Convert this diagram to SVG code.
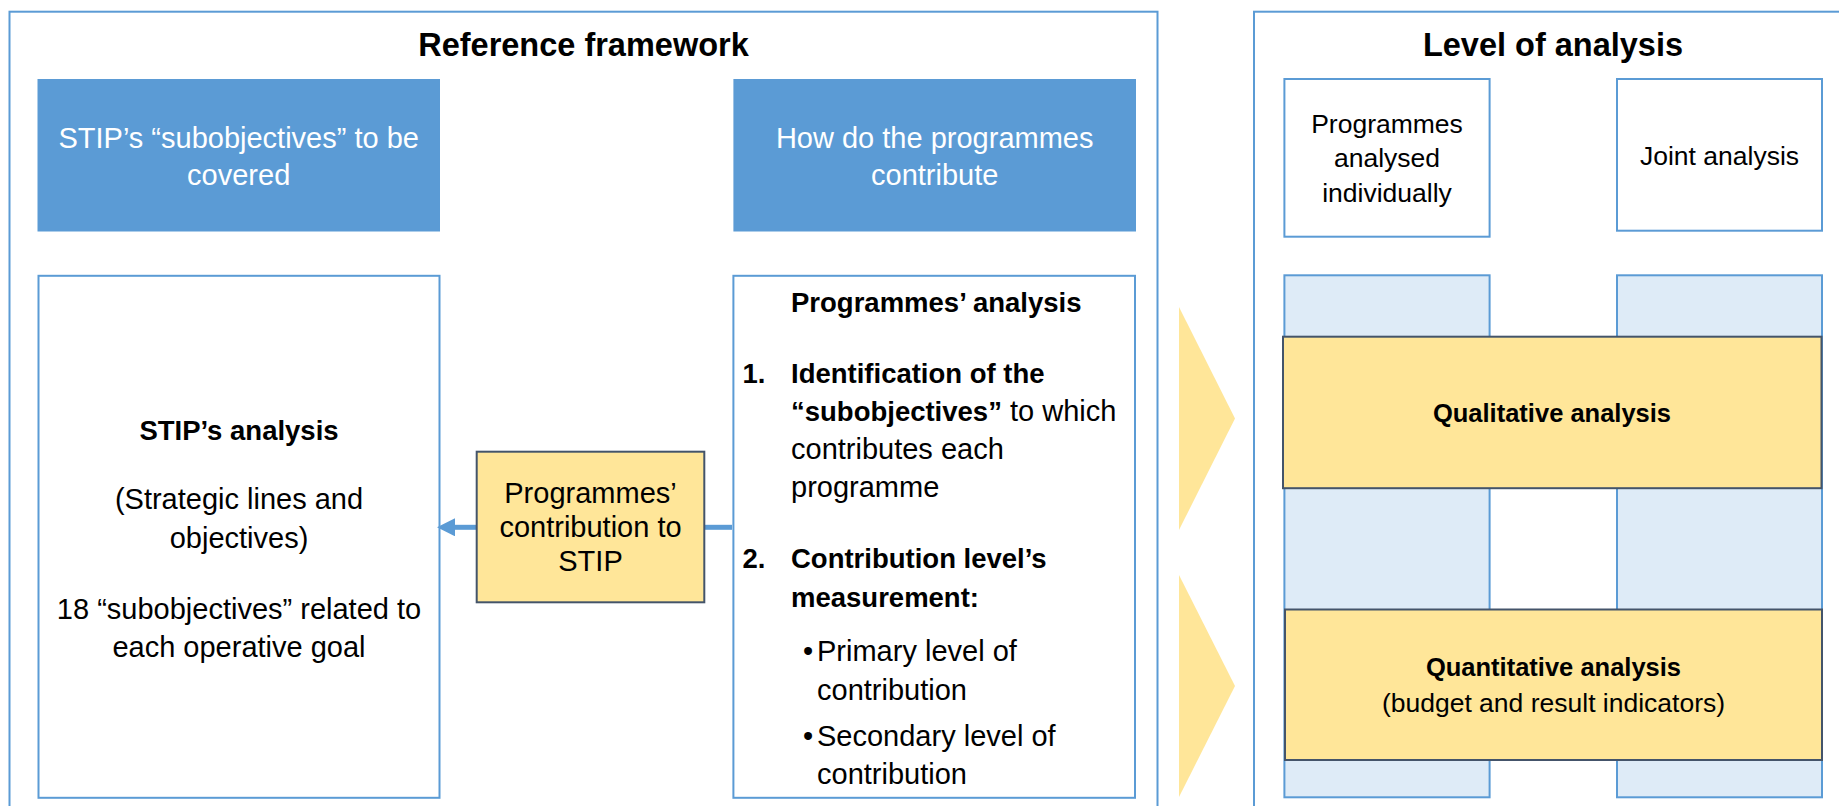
<svg xmlns="http://www.w3.org/2000/svg" width="1839" height="806" viewBox="0 0 1839 806">
<defs>
<style>
text{font-family:"Liberation Sans",Arial,sans-serif;fill:#000}
.frame{fill:#fff;stroke:#5B9BD5;stroke-width:2}
.hdr{fill:#5B9BD5;stroke:none}
.box{fill:#fff;stroke:#5B9BD5;stroke-width:2}
.col{fill:#DEEBF7;stroke:#5B9BD5;stroke-width:2}
.yel{fill:#FFE699;stroke:#44546A;stroke-width:2}
.chev{fill:#FFE699;stroke:none}
.title{font-size:32.5px;font-weight:bold;text-anchor:middle}
.wt{font-size:29px;fill:#fff;text-anchor:middle}
.lr{font-size:29px}
.lb{font-size:27.5px;font-weight:bold}
.rr{font-size:26.5px}
.rb{font-size:25.5px;font-weight:bold}
.c{text-anchor:middle}
.conn{stroke:#5B9BD5;stroke-width:5;fill:none}
</style>
<marker id="ah" markerUnits="userSpaceOnUse" markerWidth="18" markerHeight="18" refX="0" refY="9" orient="auto" viewBox="0 0 18 18">
<path d="M0,0 L18,9 L0,18 Z" fill="#5B9BD5"/>
</marker>
</defs>

<g id="frame-reference">
<rect class="frame" x="9.5" y="11.7" width="1148" height="820"/>
<text class="title" x="583.5" y="56">Reference framework</text>
</g>
<g id="frame-level">
<rect class="frame" x="1254" y="11.7" width="620" height="820"/>
<text class="title" x="1553" y="56">Level of analysis</text>
</g>

<g id="chevron-1"><polygon class="chev" points="1179,307 1235,418.5 1179,530"/></g>
<g id="chevron-2"><polygon class="chev" points="1179,575 1235,686 1179,797"/></g>

<g id="hdr-subobjectives">
<rect class="hdr" x="37.5" y="79" width="402.5" height="152.5"/>
<text class="wt" x="238.7" y="148">STIP’s “subobjectives” to be</text>
<text class="wt" x="238.7" y="185">covered</text>
</g>

<g id="hdr-contribute">
<rect class="hdr" x="733.4" y="79" width="402.6" height="152.5"/>
<text class="wt" x="934.7" y="148">How do the programmes</text>
<text class="wt" x="934.7" y="185">contribute</text>
</g>

<g id="box-individually">
<rect class="box" x="1284.4" y="79" width="205.2" height="157.7"/>
<text class="rr c" x="1387" y="133">Programmes</text>
<text class="rr c" x="1387" y="167">analysed</text>
<text class="rr c" x="1387" y="202">individually</text>
</g>

<g id="box-joint">
<rect class="box" x="1617" y="79" width="205" height="151.7"/>
<text class="rr c" x="1719.5" y="165">Joint analysis</text>
</g>

<g id="col-individually"><rect class="col" x="1284.4" y="275.3" width="205.2" height="522"/></g>
<g id="col-joint"><rect class="col" x="1617" y="275.3" width="205" height="522"/></g>

<g id="box-stip-analysis">
<rect class="box" x="38.5" y="275.8" width="401" height="522"/>
<text class="lb c" x="239" y="439.5">STIP’s analysis</text>
<text class="lr c" x="239" y="509">(Strategic lines and</text>
<text class="lr c" x="239" y="547.5">objectives)</text>
<text class="lr c" x="239" y="619">18 “subobjectives” related to</text>
<text class="lr c" x="239" y="656.5">each operative goal</text>
</g>

<g id="connectors">
<line class="conn" x1="732" y1="527.3" x2="704" y2="527.3"/>
<line class="conn" x1="477" y1="527.3" x2="455" y2="527.3" marker-end="url(#ah)"/>
</g>

<g id="box-contribution">
<rect class="yel" x="476.7" y="451.7" width="227.6" height="150.6"/>
<text class="lr c" x="590.5" y="502.7">Programmes’</text>
<text class="lr c" x="590.5" y="537.3">contribution to</text>
<text class="lr c" x="590.5" y="571">STIP</text>
</g>

<g id="box-programmes-analysis">
<rect class="box" x="733.4" y="275.8" width="401.6" height="522"/>
<text class="lb" x="791" y="311.6">Programmes’ analysis</text>
<text class="lb" x="742.5" y="383">1.</text>
<text class="lb" x="791" y="383">Identification of the</text>
<text class="lr" x="791" y="421"><tspan class="lb">“subobjectives”</tspan> to which</text>
<text class="lr" x="791" y="459">contributes each</text>
<text class="lr" x="791" y="497">programme</text>
<text class="lb" x="742.5" y="568">2.</text>
<text class="lb" x="791" y="568">Contribution level’s</text>
<text class="lb" x="791" y="607">measurement:</text>
<text class="lr" x="803" y="660.5">•</text>
<text class="lr" x="817" y="660.5">Primary level of</text>
<text class="lr" x="817" y="699.5">contribution</text>
<text class="lr" x="803" y="746">•</text>
<text class="lr" x="817" y="746">Secondary level of</text>
<text class="lr" x="817" y="784">contribution</text>
</g>

<g id="box-qualitative">
<rect class="yel" x="1283" y="336.7" width="538.5" height="151.5"/>
<text class="rb c" x="1552" y="422">Qualitative analysis</text>
</g>

<g id="box-quantitative">
<rect class="yel" x="1285" y="609.5" width="537" height="150.5"/>
<text class="rb c" x="1553.5" y="676">Quantitative analysis</text>
<text class="rr c" x="1553.5" y="712">(budget and result indicators)</text>
</g>
</svg>
